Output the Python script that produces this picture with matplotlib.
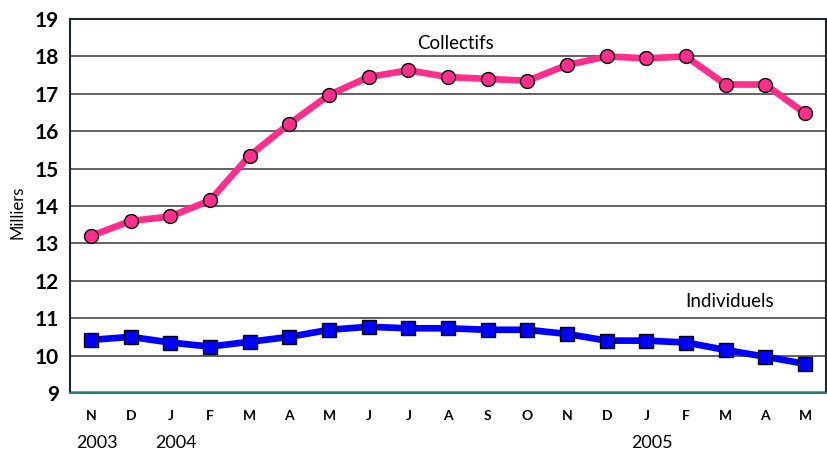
import matplotlib
matplotlib.use("Agg")
import matplotlib.pyplot as plt
from matplotlib.transforms import blended_transform_factory

months = ["N", "D", "J", "F", "M", "A", "M", "J", "J", "A", "S", "O",
          "N", "D", "J", "F", "M", "A", "M"]
collectifs = [13.2, 13.6, 13.72, 14.15, 15.35, 16.2, 16.97, 17.45, 17.63,
              17.45, 17.4, 17.35, 17.77, 18.0, 17.95, 18.0, 17.25, 17.25, 16.48]
individuels = [10.42, 10.5, 10.35, 10.24, 10.37, 10.5, 10.69, 10.77, 10.73,
               10.73, 10.69, 10.69, 10.58, 10.4, 10.4, 10.35, 10.15, 9.97, 9.78]
year_labels = {0: "2003", 2: "2004", 14: "2005"}
y_ticks = list(range(9, 20))

plt.rcParams["font.family"] = ["Lato", "DejaVu Sans"]

fig = plt.figure(figsize=(8.27, 4.54), dpi=100)
ax = fig.add_axes([0.0846, 0.1344, 0.9142, 0.8236])

x = list(range(len(months)))
ax.plot(x, collectifs, color="#ff2d8c", lw=4.8, marker="o", ms=10,
        markerfacecolor="#ff2d8c", markeredgecolor="black", markeredgewidth=1.0,
        solid_joinstyle="round", zorder=3)
ax.plot(x, individuels, color="#0000ff", lw=4.8, marker="s", ms=10,
        markerfacecolor="#0000ff", markeredgecolor="black", markeredgewidth=1.0,
        solid_joinstyle="round", zorder=3)

ax.set_xlim(-0.53, len(months) - 1 + 0.53)
ax.set_ylim(9, 19)
ax.set_yticks(y_ticks)
ax.set_yticklabels([str(v) for v in y_ticks], fontsize=15, fontweight="bold")
ax.set_xticks(x)
ax.set_xticklabels(months, fontsize=10, fontweight="bold")
ax.tick_params(axis="both", length=0)
ax.tick_params(axis="y", pad=8)
ax.tick_params(axis="x", pad=12)

for v in y_ticks[1:-1]:
    ax.axhline(v, color="#555555", lw=1.3, zorder=1)

for side in ["top", "left", "right"]:
    ax.spines[side].set_color("#1a2a2a")
    ax.spines[side].set_linewidth(1.5)
ax.spines["bottom"].set_color("#2a7a7a")
ax.spines["bottom"].set_linewidth(1.5)
ax.axhline(9.03, color="#888888", lw=2.0, zorder=2, clip_on=False)

fig.text(18 / 827, 1 - 212 / 454, "Milliers", fontsize=12, rotation=90,
         ha="center", va="center")

ax.text(9.2, 18.35, "Collectifs", fontsize=13.5, ha="center", va="center")
ax.text(16.1, 11.45, "Individuels", fontsize=13.5, ha="center", va="center")

trans = blended_transform_factory(ax.transData, ax.transAxes)
for i, lab in year_labels.items():
    ax.text(i + 0.15, -0.135, lab, transform=trans, fontsize=13,
            ha="center", va="center")

fig.savefig("out.png", dpi=100)
